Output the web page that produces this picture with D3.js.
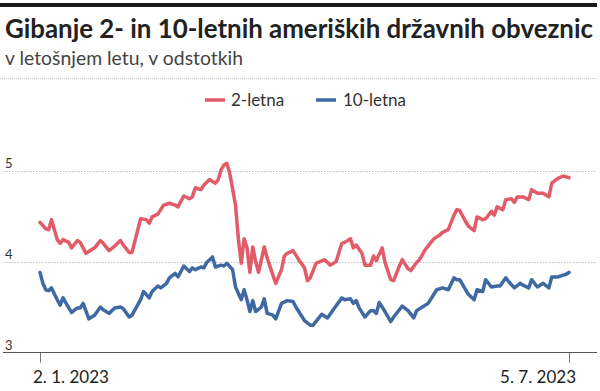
<!DOCTYPE html>
<html>
<head>
<meta charset="utf-8">
<script src="https://cdn.jsdelivr.net/npm/d3@7"></script>
<style>
  html, body { margin: 0; padding: 0; background: #fff; }
  svg { display: block; }
</style>
</head>
<body>
<svg id="chart" width="600" height="391"></svg>
<script>
const title = "Gibanje 2- in 10-letnih ameriških državnih obveznic";
const subtitle = "v letošnjem letu, v odstotkih";
const seriesNames = ["2-letna", "10-letna"];
const yTicks = [3, 4, 5];
const xTickDates = ["2023-01-02", "2023-07-05"];
const xTickLabels = ["2. 1. 2023", "5. 7. 2023"];

const dates2 = ["01-02","01-04","01-05","01-06","01-08","01-09","01-10","01-12","01-13","01-15","01-16","01-18","01-21","01-23","01-24","01-26","01-28","01-30","01-31","02-02","02-03","02-06","02-08","02-09","02-10","02-12","02-14","02-16","02-18","02-19","02-21","02-23","02-24","02-25","02-27","02-28","03-02","03-03","03-04","03-05","03-06","03-07","03-08","03-09","03-11","03-12","03-13","03-14","03-15","03-16","03-17","03-18","03-19","03-21","03-22","03-24","03-25","03-27","03-28","03-29","03-31","04-02","04-04","04-05","04-06","04-08","04-11","04-13","04-15","04-17","04-18","04-20","04-21","04-22","04-24","04-25","04-27","04-28","04-29","05-01","05-02","05-04","05-05","05-07","05-08","05-10","05-11","05-13","05-14","05-16","05-19","05-21","05-22","05-24","05-26","05-27","05-28","05-30","05-31","06-02","06-03","06-05","06-06","06-08","06-09","06-10","06-12","06-13","06-15","06-16","06-17","06-19","06-21","06-22","06-24","06-26","06-28","06-29","07-01","07-03","07-04","07-05"];
const values2 = [4.43,4.36,4.35,4.46,4.24,4.20,4.24,4.21,4.15,4.23,4.21,4.09,4.15,4.23,4.20,4.12,4.17,4.23,4.18,4.10,4.10,4.47,4.46,4.42,4.49,4.52,4.62,4.64,4.62,4.60,4.72,4.69,4.71,4.81,4.79,4.84,4.90,4.88,4.86,4.90,5.01,5.06,5.08,4.97,4.62,4.25,3.98,4.25,4.15,3.88,4.16,4.00,3.88,4.16,4.04,3.85,3.76,3.91,4.06,4.09,4.12,4.02,3.93,3.79,3.82,3.98,4.02,3.96,4.00,4.20,4.21,4.25,4.15,4.18,4.09,3.96,3.96,4.06,4.01,4.15,3.99,3.80,3.79,3.95,4.02,3.92,3.90,3.99,4.02,4.13,4.25,4.29,4.32,4.35,4.51,4.57,4.56,4.44,4.39,4.34,4.49,4.46,4.47,4.55,4.51,4.60,4.57,4.68,4.69,4.65,4.71,4.71,4.68,4.79,4.75,4.75,4.71,4.86,4.91,4.94,4.93,4.92];

const dates10 = ["01-02","01-03","01-04","01-05","01-06","01-08","01-09","01-10","01-12","01-13","01-15","01-16","01-17","01-19","01-21","01-23","01-24","01-26","01-28","01-30","01-31","02-02","02-03","02-06","02-07","02-09","02-10","02-12","02-13","02-15","02-16","02-18","02-19","02-21","02-23","02-24","02-25","02-27","02-28","03-01","03-03","03-04","03-06","03-07","03-08","03-10","03-11","03-13","03-14","03-15","03-16","03-17","03-18","03-20","03-21","03-22","03-24","03-25","03-27","03-29","03-31","04-01","04-02","04-04","04-06","04-07","04-09","04-10","04-12","04-14","04-17","04-18","04-20","04-21","04-22","04-23","04-25","04-27","04-28","04-29","04-30","05-02","05-04","05-05","05-07","05-08","05-10","05-12","05-13","05-15","05-17","05-19","05-20","05-22","05-24","05-26","05-27","05-28","05-30","05-31","06-02","06-03","06-05","06-06","06-08","06-10","06-11","06-13","06-14","06-16","06-18","06-19","06-21","06-22","06-24","06-26","06-28","06-29","07-01","07-03","07-04","07-05"];
const values10 = [3.88,3.76,3.69,3.68,3.71,3.58,3.52,3.60,3.49,3.44,3.49,3.49,3.54,3.37,3.41,3.50,3.47,3.43,3.49,3.50,3.48,3.39,3.41,3.58,3.67,3.60,3.67,3.73,3.71,3.76,3.82,3.87,3.83,3.95,3.89,3.93,3.91,3.94,3.93,3.99,4.05,3.94,3.96,3.95,3.98,3.91,3.72,3.58,3.69,3.58,3.45,3.57,3.45,3.50,3.59,3.43,3.41,3.37,3.54,3.57,3.56,3.50,3.45,3.35,3.30,3.30,3.38,3.42,3.38,3.47,3.60,3.58,3.59,3.54,3.57,3.49,3.39,3.46,3.46,3.43,3.55,3.45,3.34,3.39,3.47,3.51,3.46,3.38,3.46,3.50,3.54,3.64,3.69,3.71,3.69,3.82,3.80,3.80,3.69,3.64,3.58,3.69,3.67,3.80,3.72,3.73,3.73,3.82,3.78,3.71,3.76,3.74,3.71,3.80,3.72,3.76,3.71,3.83,3.83,3.85,3.86,3.88];

const colors = ["#e25b68", "#3f69a3"];

const parse = d3.timeParse("%Y-%m-%d");
const s2 = dates2.map((d, i) => ({ date: parse("2023-" + d), value: values2[i] }));
const s10 = dates10.map((d, i) => ({ date: parse("2023-" + d), value: values10[i] }));

const svg = d3.select("#chart");
const FONT = "Lato, 'Open Sans', sans-serif";

// top bar
svg.append("rect").attr("x", 0).attr("y", 3).attr("width", 597).attr("height", 4).attr("fill", "#1a1a1a");

// title, fitted to width
const t = svg.append("text").attr("x", 5).attr("y", 38)
  .attr("font-family", FONT).attr("font-weight", 700).attr("font-size", 24)
  .attr("fill", "#222").text(title);
const tw = t.node().getComputedTextLength();
t.attr("font-size", 24 * 588 / tw);

const st = svg.append("text").attr("x", 5).attr("y", 65)
  .attr("font-family", FONT).attr("font-size", 17)
  .attr("fill", "#444").text(subtitle);
const sw = st.node().getComputedTextLength();
st.attr("font-size", 17 * 238 / sw);

svg.append("line").attr("x1", 0).attr("x2", 597).attr("y1", 78.5).attr("y2", 78.5)
  .attr("stroke", "#c8c8c8").attr("stroke-dasharray", "1,1");

// legend
const legend = [{x: 205, tx: 231}, {x: 316, tx: 343}];
seriesNames.forEach((n, i) => {
  svg.append("line").attr("x1", legend[i].x).attr("x2", legend[i].x + 20)
    .attr("y1", 100).attr("y2", 100).attr("stroke", colors[i]).attr("stroke-width", 3.5);
  svg.append("text").attr("x", legend[i].tx).attr("y", 106)
    .attr("font-family", FONT).attr("font-size", 17).attr("fill", "#333").text(n);
});

// scales
const x = d3.scaleTime().domain([parse(xTickDates[0]), parse(xTickDates[1])]).range([40, 569]);
const y = d3.scaleLinear().domain([3, 5]).range([352.5, 170.5]);

// gridlines
svg.append("g").selectAll("line").data(yTicks.filter(v => v > 3)).join("line")
  .attr("x1", 3).attr("x2", 597)
  .attr("y1", d => Math.round(y(d)) + 0.5).attr("y2", d => Math.round(y(d)) + 0.5)
  .attr("stroke", "#bdbdbd").attr("stroke-dasharray", "1.5,1.5");

svg.append("g").selectAll("text").data(yTicks).join("text")
  .attr("x", 5).attr("y", d => y(d) - 3)
  .attr("font-family", FONT).attr("font-size", 13).attr("fill", "#333").text(d => d);

// x axis
const xAxis = d3.axisBottom(x).tickValues(xTickDates.map(parse)).tickSize(10).tickFormat("");
const gx = svg.append("g").attr("transform", "translate(0,352.5)").call(xAxis);
gx.select(".domain").remove();
gx.selectAll(".tick line").attr("stroke", "#777");
svg.append("line").attr("x1", 3).attr("x2", 597).attr("y1", 352.5).attr("y2", 352.5).attr("stroke", "#555");

svg.append("text").attr("x", x(parse(xTickDates[0])) - 7).attr("y", 383)
  .attr("font-family", FONT).attr("font-size", 17).attr("fill", "#222").text(xTickLabels[0]);
svg.append("text").attr("x", x(parse(xTickDates[1])) + 7).attr("y", 383).attr("text-anchor", "end")
  .attr("font-family", FONT).attr("font-size", 17).attr("fill", "#222").text(xTickLabels[1]);

// lines
const line = d3.line().x(d => x(d.date)).y(d => y(d.value)).curve(d3.curveLinear);
[s2, s10].forEach((s, i) => {
  svg.append("path").datum(s).attr("d", line).attr("fill", "none")
    .attr("stroke", colors[i]).attr("stroke-width", 3.5)
    .attr("stroke-linejoin", "round").attr("stroke-linecap", "round");
});
</script>
</body>
</html>
